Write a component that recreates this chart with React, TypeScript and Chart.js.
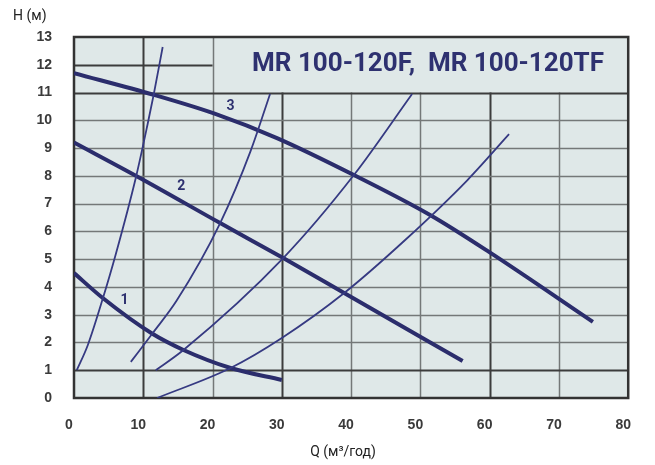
import React, { useEffect, useRef } from "react";
import { Chart, registerables } from "chart.js";

Chart.register(...registerables);

// Pump curves (Q in m3/h, H in m)
const pump1Q = [0, 4.2, 11.2, 15.8, 22.6, 30];
const pump1H = [4.5, 3.59, 2.33, 1.73, 1.08, 0.65];
const pump2Q = [0, 9.25, 21.1, 30.2, 39, 56.1];
const pump2H = [9.2, 7.96, 6.3, 5.04, 3.78, 1.33];
const pump3Q = [0, 11.5, 20.3, 29.3, 40.4, 51.4, 59.9, 74.9];
const pump3H = [11.7, 10.92, 10.24, 9.36, 8.03, 6.59, 5.26, 2.74];

// System curves
const sysAQ = [0.4, 2.0, 4.17, 6.0, 8.95, 10.6, 11.5, 12.8];
const sysAH = [1.0, 1.91, 3.59, 5.15, 7.96, 9.83, 10.92, 12.64];
const sysBQ = [8.2, 11.4, 14.8, 21.1, 25.5, 28.3];
const sysBH = [1.3, 2.35, 3.5, 6.3, 8.9, 10.95];
const sysCQ = [11.8, 15.8, 30.2, 40.4, 48.8];
const sysCH = [1.0, 1.73, 5.04, 8.03, 10.95];
const sysDQ = [12, 22.6, 30, 39, 47.8, 56.8, 62.8];
const sysDH = [0, 1.08, 2.16, 3.78, 5.69, 7.85, 9.5];

// Curve labels
const curveLabels = ["1", "2", "3"];
const curveLabelQ = [7.3, 15.5, 22.6];
const curveLabelH = [3.5, 7.6, 10.48];

const xTicks = [0, 10, 20, 30, 40, 50, 60, 70, 80];
const yTicks = [0, 1, 2, 3, 4, 5, 6, 7, 8, 9, 10, 11, 12, 13];

const title = "MR 100-120F,  MR 100-120TF";
const yTitle = "H (м)";
const xTitle = "Q (м³/год)";

const NAVY = "#2b2d6c";
const BG = "#dfe8e8";

const pts = (q: number[], h: number[]) => q.map((v, i) => ({ x: v, y: h[i] }));

const gridPlugin = {
  id: "gridPlugin",
  beforeDatasetsDraw(chart: any) {
    const { ctx, chartArea: a, scales } = chart;
    const xs = scales.x;
    const ys = scales.y;
    ctx.save();
    ctx.fillStyle = BG;
    ctx.fillRect(a.left, a.top, a.right - a.left, a.bottom - a.top);
    for (const v of xTicks) {
      if (v === 0 || v === 80) continue;
      const px = Math.round(xs.getPixelForValue(v)) + 0.5;
      const topVal = v > 20 ? 11 : 13;
      const dark = v === 10 || v === 30 || v === 60;
      ctx.strokeStyle = dark ? "#3c3c3c" : "#747878";
      ctx.lineWidth = dark ? 2 : 1.5;
      ctx.beginPath();
      ctx.moveTo(px, a.bottom);
      ctx.lineTo(px, ys.getPixelForValue(topVal));
      ctx.stroke();
    }
    for (const h of yTicks) {
      if (h === 0 || h === 13) continue;
      const py = Math.round(ys.getPixelForValue(h)) + 0.5;
      const rightVal = h === 12 ? 20 : 80;
      const dark = h === 1 || h === 12 || h === 11;
      ctx.strokeStyle = dark ? "#3c3c3c" : "#747878";
      ctx.lineWidth = dark ? 2 : 1.5;
      ctx.beginPath();
      ctx.moveTo(a.left, py);
      ctx.lineTo(xs.getPixelForValue(rightVal), py);
      ctx.stroke();
    }
    ctx.strokeStyle = "#333333";
    ctx.lineWidth = 2.5;
    ctx.strokeRect(a.left, a.top, a.right - a.left, a.bottom - a.top);
    ctx.fillStyle = "#2e3170";
    ctx.font = "bold 26px Roboto";
    ctx.textAlign = "center";
    ctx.textBaseline = "middle";
    ctx.fillText(title, 428, 64);
    ctx.restore();
  },
  afterDatasetsDraw(chart: any) {
    const { ctx, scales } = chart;
    ctx.save();
    ctx.fillStyle = "#2e3170";
    ctx.font = "bold 14px Roboto";
    ctx.textAlign = "center";
    ctx.textBaseline = "middle";
    curveLabels.forEach((t, i) => {
      ctx.fillText(t, scales.x.getPixelForValue(curveLabelQ[i]), scales.y.getPixelForValue(curveLabelH[i]));
    });
    ctx.restore();
  },
  afterDraw(chart: any) {
    const { ctx } = chart;
    ctx.save();
    ctx.fillStyle = "#222222";
    ctx.font = "14px Roboto";
    ctx.textBaseline = "middle";
    ctx.textAlign = "left";
    ctx.fillText(yTitle, 13, 16);
    ctx.textAlign = "center";
    ctx.fillText(xTitle, 343, 452);
    ctx.restore();
  },
};

export default function App() {
  const ref = useRef<HTMLCanvasElement>(null);
  useEffect(() => {
    if (!ref.current) return;
    const thick = (q: number[], h: number[]) => ({
      data: pts(q, h),
      borderColor: NAVY,
      borderWidth: 4,
      pointRadius: 0,
      cubicInterpolationMode: "monotone" as const,
      fill: false,
    });
    const thin = (q: number[], h: number[]) => ({
      data: pts(q, h),
      borderColor: "#363a82",
      borderWidth: 1.8,
      pointRadius: 0,
      cubicInterpolationMode: "monotone" as const,
      fill: false,
    });
    const tickFont = { family: "'Liberation Sans', Arial", size: 14, weight: "bold" as const };
    const chart = new Chart(ref.current, {
      type: "line",
      data: {
        datasets: [
          thin(sysAQ, sysAH),
          thin(sysBQ, sysBH),
          thin(sysCQ, sysCH),
          thin(sysDQ, sysDH),
          thick(pump1Q, pump1H),
          thick(pump2Q, pump2H),
          thick(pump3Q, pump3H),
        ],
      },
      options: {
        responsive: false,
        animation: false,
        events: [],
        layout: { padding: { top: 37, right: 19, left: 0, bottom: 0 } },
        plugins: { legend: { display: false }, tooltip: { enabled: false } },
        scales: {
          x: {
            type: "linear",
            min: 0,
            max: 80,
            grid: { display: false, drawTicks: false },
            border: { display: false },
            afterFit: (s: any) => { s.height = 67; },
            afterBuildTicks: (s: any) => { s.ticks = xTicks.map((v) => ({ value: v })); },
            ticks: {
              padding: 19,
              labelOffset: -5,
              color: "#3a3a3a",
              font: tickFont,
            },
          },
          y: {
            type: "linear",
            min: 0,
            max: 13,
            grid: { display: false, drawTicks: false },
            border: { display: false },
            afterFit: (s: any) => { s.width = 74; },
            afterBuildTicks: (s: any) => { s.ticks = yTicks.map((v) => ({ value: v })); },
            ticks: {
              padding: 22,
              color: "#3a3a3a",
              font: tickFont,
            },
          },
        },
      },
      plugins: [gridPlugin],
    });
    return () => chart.destroy();
  }, []);
  return (
    <div style={{ position: "absolute", left: 0, top: 0, width: 655, height: 465, background: "#fff" }}>
      <canvas ref={ref} width={655} height={465} />
    </div>
  );
}
